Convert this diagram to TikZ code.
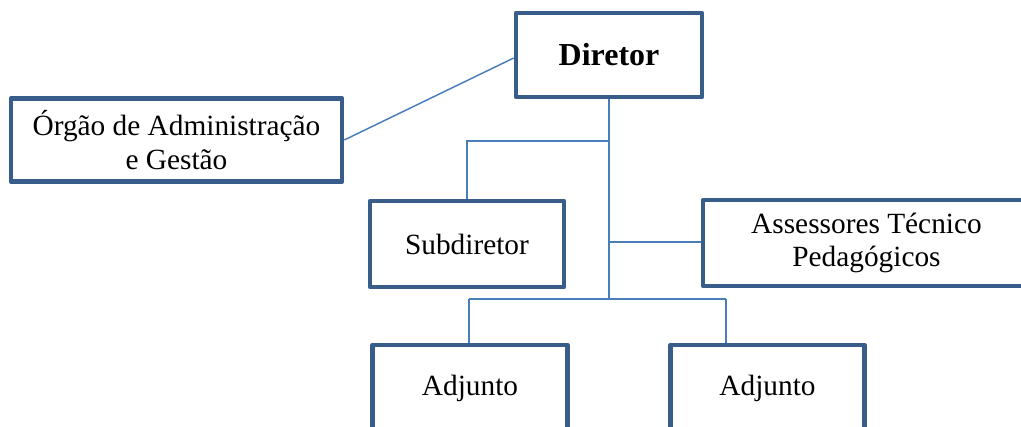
\documentclass[tikz,border=0pt]{standalone}
\usepackage{fontspec}
\setmainfont{Liberation Serif}
\definecolor{boxblue}{HTML}{385D8A}
\definecolor{lineblue}{HTML}{4A7EBB}
\tikzset{
  orgbox/.style={draw=boxblue, line width=3.4pt, line join=round, fill=white,
    rectangle, align=center, inner sep=0pt,
    font=\fontsize{22}{25}\selectfont},
  conn/.style={draw=lineblue, line width=1.1pt},
}
\begin{document}
\begin{tikzpicture}[x=0.75pt,y=-0.75pt]
\useasboundingbox (0,0) rectangle (1021,427);
\clip (0,0) rectangle (1021,427);
\node[orgbox, minimum width=139.5pt, minimum height=63pt, font=\fontsize{24}{28}\selectfont\bfseries] (dir) at (609,55) {Diretor};
\node[orgbox, minimum width=248.25pt, minimum height=62.6pt] (org) at (176.5,140) {Órgão de Administração\\e Gestão};
\node[orgbox, minimum width=145.5pt, minimum height=64.5pt] (sub) at (467,244) {Subdiretor};
\node[orgbox, minimum width=245.25pt, minimum height=64.5pt] (ass) at (866.5,243) {Assessores Técnico\\Pedagógicos};
\node[orgbox, minimum width=145.9pt, minimum height=64.5pt] (adj1) at (470,388) {Adjunto};
\node[orgbox, minimum width=145.5pt, minimum height=64.5pt] (adj2) at (767.5,388) {Adjunto};
\coordinate (jsub) at (609,141);
\coordinate (jass) at (609,242);
\coordinate (jbot) at (609,299);
\coordinate (jadjL) at (469,299);
\coordinate (jadjR) at (726,299);
\draw[conn] (dir.south) -- (jbot);
\draw[conn] (jsub) -| (sub.north);
\draw[conn] (jass) -- (jass -| ass.west);
\draw[conn] (jadjL) -- (jadjR);
\draw[conn] (jadjL) -- (jadjL |- adj1.north);
\draw[conn] (jadjR) -- (jadjR |- adj2.north);
\draw[conn] (org.east) -- ([yshift=-2.25pt]dir.west);
\end{tikzpicture}
\end{document}
